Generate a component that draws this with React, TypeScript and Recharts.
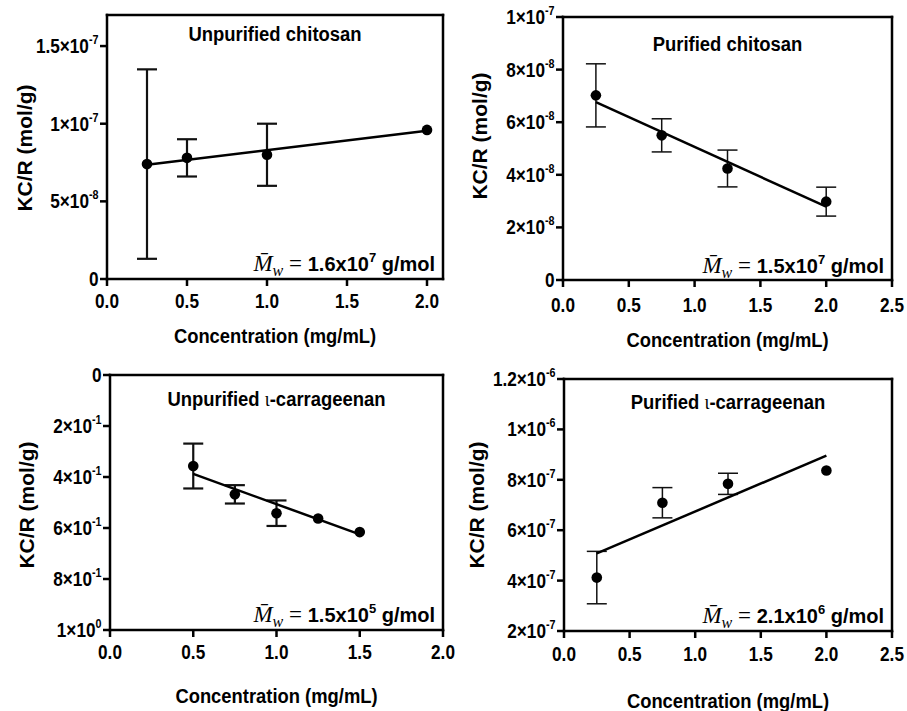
import React from "react";
import { ScatterChart, Scatter, XAxis, YAxis, ErrorBar, ReferenceLine } from "recharts";

const SANS = '"Liberation Sans", Arial, Helvetica, sans-serif';
const SERIF = '"Liberation Serif", "Times New Roman", serif';

// Unpurified chitosan
const ucConc = [0.25, 0.5, 1.0, 2.0];
const ucKcr = [7.4e-8, 7.8e-8, 8.0e-8, 9.6e-8];
const ucErr = [6.1e-8, 1.2e-8, 2.0e-8, 0];
const ucFitConc = [0.25, 2.0];
const ucFitKcr = [7.35e-8, 9.55e-8];
const ucXTicks = [0, 0.5, 1, 1.5, 2];
const ucYTicks = [0, 5e-8, 1e-7, 1.5e-7];
const ucYLabels = ["0", "5×10^-8", "1×10^-7", "1.5×10^-7"];

// Purified chitosan
const pcConc = [0.25, 0.75, 1.25, 2.0];
const pcKcr = [7.02e-8, 5.5e-8, 4.24e-8, 2.98e-8];
const pcErr = [1.2e-8, 0.63e-8, 0.7e-8, 0.55e-8];
const pcFitConc = [0.25, 2.0];
const pcFitKcr = [6.76e-8, 2.79e-8];
const pcXTicks = [0, 0.5, 1, 1.5, 2, 2.5];
const pcYTicks = [0, 2e-8, 4e-8, 6e-8, 8e-8, 1e-7];
const pcYLabels = ["0", "2×10^-8", "4×10^-8", "6×10^-8", "8×10^-8", "1×10^-7"];

// Unpurified iota-carrageenan
const ucgConc = [0.5, 0.75, 1.0, 1.25, 1.5];
const ucgKcr = [0.357, 0.468, 0.542, 0.563, 0.616];
const ucgErr = [0.088, 0.036, 0.05, 0, 0];
const ucgFitConc = [0.5, 1.5];
const ucgFitKcr = [0.388, 0.625];
const ucgXTicks = [0, 0.5, 1, 1.5, 2];
const ucgYTicks = [0, 0.2, 0.4, 0.6, 0.8, 1];
const ucgYLabels = ["0", "2×10^-1", "4×10^-1", "6×10^-1", "8×10^-1", "1×10^0"];

// Purified iota-carrageenan
const pcgConc = [0.25, 0.75, 1.25, 2.0];
const pcgKcr = [4.12e-7, 7.09e-7, 7.84e-7, 8.37e-7];
const pcgErr = [1.04e-7, 0.6e-7, 0.42e-7, 0];
const pcgFitConc = [0.25, 2.0];
const pcgFitKcr = [5.08e-7, 8.96e-7];
const pcgXTicks = [0, 0.5, 1, 1.5, 2, 2.5];
const pcgYTicks = [2e-7, 4e-7, 6e-7, 8e-7, 1e-6, 1.2e-6];
const pcgYLabels = ["2×10^-7", "4×10^-7", "6×10^-7", "8×10^-7", "1×10^-6", "1.2×10^-6"];

type PanelDef = {
  title: string;
  iota: boolean;
  mw: [string, string];
  conc: number[];
  kcr: number[];
  err: number[];
  fitConc: number[];
  fitKcr: number[];
  xTicks: number[];
  yTicks: number[];
  yLabels: string[];
  xDomain: [number, number];
  yDomain: [number, number];
  reversed: boolean;
  box: { x: number; y: number; w: number; h: number };
  plot: { l: number; t: number; r: number; b: number };
  titleY: number;
  xLabelY: number;
  yLabelX: number;
  yLabelY: number;
  mwY: number;
  xTickY: number;
  errW: number;
};

const panels: PanelDef[] = [
  {
    title: "Unpurified chitosan", iota: false, mw: ["1.6", "7"],
    conc: ucConc, kcr: ucKcr, err: ucErr, fitConc: ucFitConc, fitKcr: ucFitKcr,
    xTicks: ucXTicks, yTicks: ucYTicks, yLabels: ucYLabels,
    xDomain: [0, 2.1], yDomain: [0, 1.7e-7], reversed: false,
    box: { x: 0, y: 0, w: 470, h: 355 }, plot: { l: 107, t: 15, r: 443, b: 279 },
    titleY: 41, xLabelY: 343, yLabelX: 32, yLabelY: 148, mwY: 271, xTickY: 29, errW: 2.2,
  },
  {
    title: "Purified chitosan", iota: false, mw: ["1.5", "7"],
    conc: pcConc, kcr: pcKcr, err: pcErr, fitConc: pcFitConc, fitKcr: pcFitKcr,
    xTicks: pcXTicks, yTicks: pcYTicks, yLabels: pcYLabels,
    xDomain: [0, 2.5], yDomain: [0, 1e-7], reversed: false,
    box: { x: 453, y: 0, w: 454, h: 355 }, plot: { l: 563, t: 17, r: 892, b: 280 },
    titleY: 51, xLabelY: 347, yLabelX: 487, yLabelY: 136, mwY: 273, xTickY: 32, errW: 1.5,
  },
  {
    title: "Unpurified ", iota: true, mw: ["1.5", "5"],
    conc: ucgConc, kcr: ucgKcr, err: ucgErr, fitConc: ucgFitConc, fitKcr: ucgFitKcr,
    xTicks: ucgXTicks, yTicks: ucgYTicks, yLabels: ucgYLabels,
    xDomain: [0, 2], yDomain: [0, 1], reversed: true,
    box: { x: 0, y: 355, w: 470, h: 356 }, plot: { l: 110, t: 375, r: 443, b: 630 },
    titleY: 406, xLabelY: 703, yLabelX: 34, yLabelY: 505, mwY: 622, xTickY: 29, errW: 2.2,
  },
  {
    title: "Purified ", iota: true, mw: ["2.1", "6"],
    conc: pcgConc, kcr: pcgKcr, err: pcgErr, fitConc: pcgFitConc, fitKcr: pcgFitKcr,
    xTicks: pcgXTicks, yTicks: pcgYTicks, yLabels: pcgYLabels,
    xDomain: [0, 2.5], yDomain: [2e-7, 1.2e-6], reversed: false,
    box: { x: 453, y: 355, w: 454, h: 356 }, plot: { l: 564, t: 379, r: 892, b: 631 },
    titleY: 409, xLabelY: 708, yLabelX: 484, yLabelY: 505, mwY: 623, xTickY: 30, errW: 1.5,
  },
];

const TICK = 7;
const LW = 2.5;

const dot = (props: any) => <circle cx={props.cx} cy={props.cy} r={5.3} fill="#000" />;
const noDot = () => <g />;

// y tick: short outward tick line + label with superscript exponent
function makeYTick(labels: string[], ticks: number[], axisX: number) {
  return (props: any) => {
    const { y, payload } = props;
    const s = labels[ticks.indexOf(payload.value)] ?? "";
    const [m, e] = s.split("^");
    return (
      <g>
        <line x1={axisX - TICK} x2={axisX} y1={y} y2={y} stroke="#000" strokeWidth={LW} />
        <text
          transform={`translate(${axisX - TICK - 1.5},${y + 7}) scale(0.86,1)`}
          textAnchor="end"
          fontFamily={SANS}
          fontWeight="bold"
          fontSize={20}
          fill="#000"
        >
          {m}
          {e !== undefined && (
            <tspan dy={-9} fontSize={12.5}>
              {e}
            </tspan>
          )}
        </text>
      </g>
    );
  };
}

function makeXTick(axisY: number, offset: number) {
  return (props: any) => {
    const { x, payload } = props;
    return (
      <g>
        <line x1={x} x2={x} y1={axisY} y2={axisY + TICK} stroke="#000" strokeWidth={LW} />
        <text
          transform={`translate(${x},${axisY + offset}) scale(0.86,1)`}
          textAnchor="middle"
          fontFamily={SANS}
          fontWeight="bold"
          fontSize={20}
          fill="#000"
        >
          {Number(payload.value).toFixed(1)}
        </text>
      </g>
    );
  };
}

function Panel({ p }: { p: PanelDef }) {
  const pts = p.conc.map((c, i) => ({ x: c, y: p.kcr[i], e: p.err[i] }));
  const fit = p.fitConc.map((c, i) => ({ x: c, y: p.fitKcr[i] }));
  const { box, plot } = p;
  const xH = 40;
  const margin = {
    top: plot.t - box.y,
    right: box.x + box.w - plot.r,
    left: 0,
    bottom: box.y + box.h - plot.b - xH,
  };
  const yTop = p.reversed ? p.yDomain[0] : p.yDomain[1];
  const yBottom = p.reversed ? p.yDomain[1] : p.yDomain[0];
  const frame = { stroke: "#000", strokeWidth: LW, strokeLinecap: "square" as const };
  return (
    <div style={{ position: "absolute", left: box.x, top: box.y, width: box.w, height: box.h }}>
      <ScatterChart width={box.w} height={box.h} margin={margin}>
        <XAxis
          type="number"
          dataKey="x"
          domain={p.xDomain}
          ticks={p.xTicks}
          allowDataOverflow
          height={xH}
          axisLine={false}
          tickLine={false}
          tick={makeXTick(plot.b - box.y, p.xTickY)}
        />
        <YAxis
          type="number"
          dataKey="y"
          domain={p.yDomain}
          ticks={p.yTicks}
          reversed={p.reversed}
          allowDataOverflow
          width={plot.l - box.x}
          axisLine={false}
          tickLine={false}
          tick={makeYTick(p.yLabels, p.yTicks, plot.l - box.x)}
        />
        <ReferenceLine y={yTop} {...frame} />
        <ReferenceLine y={yBottom} {...frame} />
        <ReferenceLine x={p.xDomain[0]} {...frame} />
        <ReferenceLine x={p.xDomain[1]} {...frame} />
        <Scatter
          data={fit}
          line={{ stroke: "#000", strokeWidth: LW }}
          shape={noDot}
          isAnimationActive={false}
        />
        <Scatter data={pts} shape={dot} isAnimationActive={false}>
          <ErrorBar dataKey="e" direction="y" width={10} stroke="#111" strokeWidth={p.errW} />
        </Scatter>
      </ScatterChart>
    </div>
  );
}

function Texts({ p }: { p: PanelDef }) {
  const cx = (p.plot.l + p.plot.r) / 2;
  return (
    <g fill="#000">
      <text
        transform={`translate(${cx},${p.titleY}) scale(0.9,1)`}
        textAnchor="middle"
        fontFamily={SANS}
        fontWeight="bold"
        fontSize={20.5}
      >
        {p.title}
        {p.iota && (
          <>
            <tspan fontFamily={SERIF} fontWeight="normal">ι</tspan>
            <tspan>-carrageenan</tspan>
          </>
        )}
      </text>
      <text
        transform={`translate(${cx},${p.xLabelY}) scale(0.92,1)`}
        textAnchor="middle"
        fontFamily={SANS}
        fontWeight="bold"
        fontSize={20}
      >
        Concentration (mg/mL)
      </text>
      <text
        transform={`translate(${p.yLabelX},${p.yLabelY}) rotate(-90)`}
        textAnchor="middle"
        fontFamily={SANS}
        fontWeight="bold"
        fontSize={21}
      >
        KC/R (mol/g)
      </text>
      <text x={p.plot.r - 8} y={p.mwY} textAnchor="end">
        <tspan fontFamily={SERIF} fontStyle="italic" fontSize={23}>{"M\u0304"}</tspan>
        <tspan fontFamily={SERIF} fontStyle="italic" fontSize={16} dy={5}>w</tspan>
        <tspan fontFamily={SERIF} fontSize={23} dy={-5}>{" = "}</tspan>
        <tspan fontFamily={SANS} fontWeight="bold" fontSize={20}>{p.mw[0] + "x10"}</tspan>
        <tspan fontFamily={SANS} fontWeight="bold" fontSize={13} dy={-9}>{p.mw[1]}</tspan>
        <tspan fontFamily={SANS} fontWeight="bold" fontSize={20} dy={9}>{" g/mol"}</tspan>
      </text>
    </g>
  );
}

export default function App() {
  return (
    <div
      style={{
        position: "absolute",
        left: 0,
        top: 0,
        width: 907,
        height: 711,
        background: "#fff",
        overflow: "hidden",
      }}
    >
      {panels.map((p, i) => (
        <Panel key={i} p={p} />
      ))}
      <svg
        width={907}
        height={711}
        style={{ position: "absolute", left: 0, top: 0, pointerEvents: "none" }}
      >
        {panels.map((p, i) => (
          <Texts key={i} p={p} />
        ))}
      </svg>
    </div>
  );
}
